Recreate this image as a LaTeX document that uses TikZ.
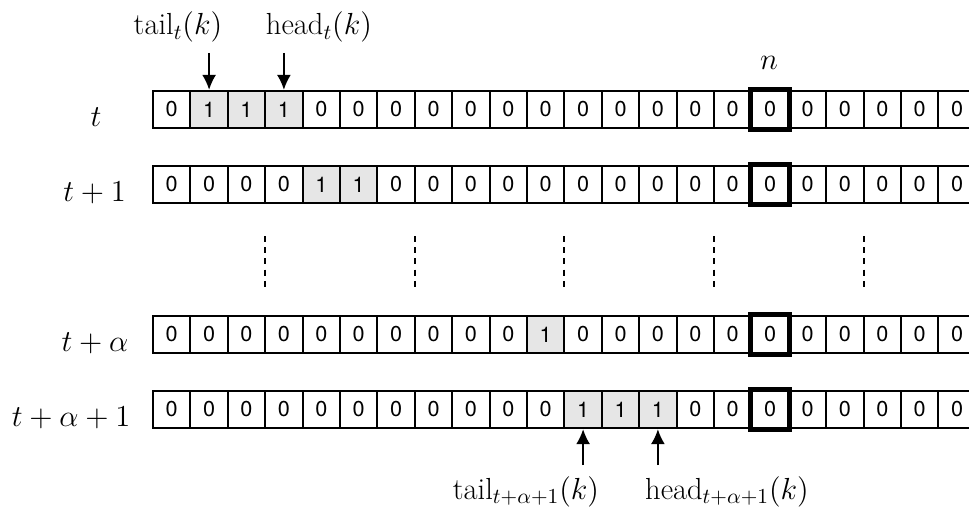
\RequirePackage{fix-cm}
\documentclass[tikz,border=0pt]{standalone}
\usepackage{fontspec}
\newfontfamily\cellfont{TeX Gyre Heros}
\usetikzlibrary{arrows.meta}
\definecolor{onfill}{HTML}{E6E6E6}

\begin{document}
\begin{tikzpicture}[x=0.5pt,y=-0.5pt,
  cell/.style={draw, line width=0.95pt, minimum width=18.7pt, minimum height=18.75pt,
    inner sep=0pt, font=\cellfont\fontsize{10.8}{12}\selectfont},
  c0/.style={cell},
  c1/.style={cell, fill=onfill},
  markbox/.style={line width=2.6pt},
  lab/.style={font=\fontsize{15.25}{18}\selectfont, inner sep=0pt, anchor=base},
  ptr/.style={-{Latex[length=7.5pt,width=7pt]}, line width=0.8pt},
  gap/.style={line width=1pt, dash pattern=on 3pt off 2.6pt}]

\useasboundingbox (0,0) rectangle (969,508);

% the four bit rows; cell 16 is the marked position n
\foreach \r/\y/\bits in {
    r1/109.5/{0,1,1,1,0,0,0,0,0,0,0,0,0,0,0,0,0,0,0,0,0,0},
    r2/184.5/{0,0,0,0,1,1,0,0,0,0,0,0,0,0,0,0,0,0,0,0,0,0},
    r3/334.5/{0,0,0,0,0,0,0,0,0,0,1,0,0,0,0,0,0,0,0,0,0,0},
    r4/409.5/{0,0,0,0,0,0,0,0,0,0,0,1,1,1,0,0,0,0,0,0,0,0}} {
  \foreach \v [count=\i from 0] in \bits {
    \node[c\v] (\r-\i) at ({153+(\i+0.5)*37.4},\y) {\v};
  }
  \draw[markbox] (\r-16.south west) rectangle (\r-16.north east);
}

% time labels
\node[lab] (lt1) at (96,126.5) {$t$};
\node[lab] (lt2) at (94.5,201.5) {$t+1$};
\node[lab] (lt3) at (95,351.5) {$t+\alpha$};
\node[lab] (lt4) at (71,426.5) {$t+\alpha+1$};

% position n
\node[lab] (ln) at (769,70) {$n$};

% pointers at time t
\node[lab] (tailt) at (178,34.5) {$\mathrm{tail}_t(k)$};
\node[lab] (headt) at (319,34.5) {$\mathrm{head}_t(k)$};
\coordinate (pa) at ({153+1.5*37.4},53);
\coordinate (pb) at ({153+3.5*37.4},53);
\draw[ptr] (pa) -- (r1-1.north);
\draw[ptr] (pb) -- (r1-3.north);

% pointers at time t+alpha+1
\node[lab] (tails) at (526,499) {$\mathrm{tail}_{t+\alpha+1}(k)$};
\node[lab] (heads) at (727,499) {$\mathrm{head}_{t+\alpha+1}(k)$};
\coordinate (qa) at ({153+11.5*37.4},465);
\coordinate (qb) at ({153+13.5*37.4},465);
\draw[ptr] (qa) -- (r4-11.south);
\draw[ptr] (qb) -- (r4-13.south);

% vertical dots between t+1 and t+alpha
\foreach \k in {3,7,11,15,19} {
  \coordinate (g\k a) at ({153+\k*37.4},236);
  \coordinate (g\k b) at ({153+\k*37.4},287);
  \draw[gap] (g\k a) -- (g\k b);
}
\end{tikzpicture}
\end{document}
